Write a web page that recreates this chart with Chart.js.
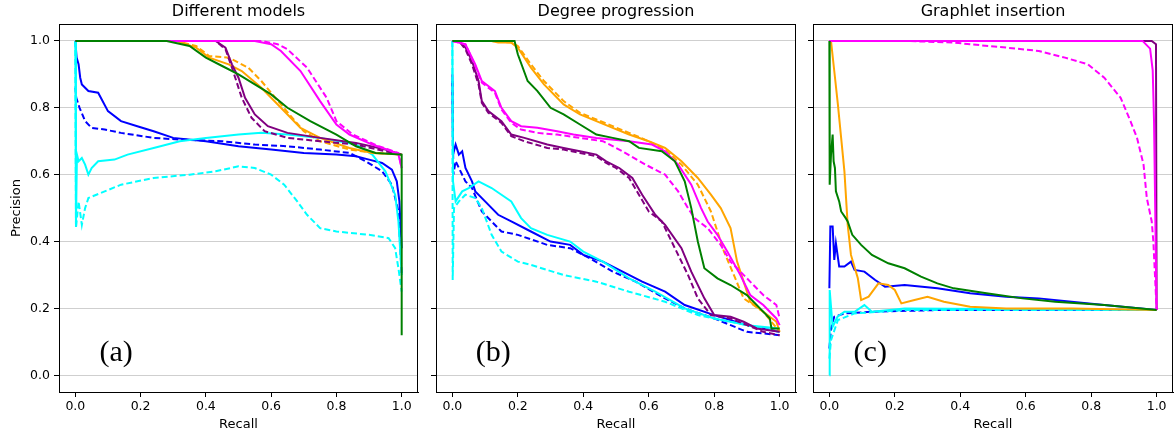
<!DOCTYPE html>
<html>
<head>
<meta charset="utf-8">
<script src="https://cdn.jsdelivr.net/npm/chart.js@4.4.1/dist/chart.umd.min.js"></script>
<style>
  html, body { margin: 0; padding: 0; background: #fff; }
  #wrap { position: relative; width: 1174px; height: 434px; }
  #wrap canvas { position: absolute; left: 0; top: 0; }
</style>
</head>
<body>
<div id="wrap">
  <canvas id="chartA" width="1174" height="434"></canvas>
  <canvas id="chartB" width="1174" height="434"></canvas>
  <canvas id="chartC" width="1174" height="434"></canvas>
</div>
<script>
// ticks
const recallTicks = [0, 0.2, 0.4, 0.6, 0.8, 1.0];
const precisionTicks = [0, 0.2, 0.4, 0.6, 0.8, 1.0];
const panelTitles = ['Different models', 'Degree progression', 'Graphlet insertion'];
const panelTags = ['(a)', '(b)', '(c)'];

// --- (a) Different models : [recall, precision]
const aBlue = [[0,1],[0.004,0.95],[0.01,0.93],[0.015,0.89],[0.02,0.87],[0.04,0.85],[0.07,0.845],[0.1,0.79],[0.14,0.76],[0.19,0.745],[0.24,0.73],[0.3,0.71],[0.4,0.70],[0.5,0.685],[0.6,0.675],[0.7,0.665],[0.8,0.66],[0.86,0.655],[0.9,0.645],[0.94,0.635],[0.97,0.615],[0.985,0.58],[0.993,0.52],[1.0,0.38]];
const aBlueDash = [[0,0.86],[0.003,0.83],[0.013,0.80],[0.03,0.76],[0.05,0.74],[0.09,0.735],[0.14,0.725],[0.24,0.71],[0.32,0.705],[0.45,0.70],[0.55,0.69],[0.65,0.685],[0.75,0.675],[0.84,0.665],[0.89,0.64],[0.94,0.61],[0.97,0.57],[0.99,0.49],[1.0,0.30]];
const aCyan = [[0,1],[0.002,0.45],[0.005,0.66],[0.01,0.64],[0.02,0.65],[0.03,0.63],[0.04,0.60],[0.05,0.62],[0.07,0.64],[0.12,0.645],[0.16,0.66],[0.24,0.68],[0.32,0.70],[0.4,0.71],[0.5,0.72],[0.57,0.725],[0.65,0.72],[0.75,0.71],[0.86,0.69],[0.91,0.66],[0.95,0.61],[0.98,0.54],[0.99,0.46],[1.0,0.30]];
const aCyanDash = [[0,1],[0.002,0.44],[0.01,0.52],[0.02,0.45],[0.03,0.50],[0.04,0.53],[0.09,0.55],[0.14,0.57],[0.24,0.59],[0.35,0.60],[0.43,0.61],[0.5,0.625],[0.55,0.62],[0.6,0.60],[0.64,0.57],[0.68,0.52],[0.71,0.48],[0.75,0.44],[0.8,0.43],[0.9,0.42],[0.96,0.41],[0.98,0.38],[0.99,0.32],[1.0,0.25]];
const aOrange = [[0,1],[0.31,1],[0.37,0.98],[0.41,0.95],[0.47,0.93],[0.51,0.91],[0.57,0.86],[0.63,0.80],[0.69,0.74],[0.75,0.71],[0.84,0.68],[0.91,0.665],[1.0,0.66]];
const aOrangeDash = [[0,1],[0.31,1],[0.37,0.985],[0.41,0.955],[0.47,0.95],[0.53,0.92],[0.57,0.88],[0.63,0.81],[0.70,0.73],[0.75,0.70],[0.84,0.675],[0.92,0.665],[1.0,0.66]];
const aPurple = [[0,1],[0.43,1],[0.46,0.98],[0.48,0.93],[0.50,0.89],[0.52,0.83],[0.55,0.78],[0.59,0.745],[0.65,0.725],[0.75,0.71],[0.86,0.695],[0.95,0.675],[1.0,0.66]];
const aPurpleDash = [[0,1],[0.43,1],[0.46,0.975],[0.48,0.92],[0.49,0.89],[0.51,0.83],[0.54,0.77],[0.58,0.73],[0.65,0.71],[0.75,0.70],[0.86,0.69],[0.95,0.67],[1.0,0.66]];
const aMagenta = [[0,1],[0.55,1],[0.6,0.99],[0.63,0.97],[0.69,0.91],[0.75,0.82],[0.8,0.75],[0.84,0.72],[0.91,0.69],[0.97,0.67],[0.99,0.66],[1.0,0.62]];
const aMagentaDash = [[0,1],[0.57,1],[0.62,0.99],[0.65,0.975],[0.71,0.92],[0.77,0.83],[0.80,0.76],[0.85,0.72],[0.93,0.685],[0.99,0.665],[1.0,0.62]];
const aGreen = [[0,1],[0.28,1],[0.35,0.985],[0.40,0.95],[0.45,0.925],[0.50,0.90],[0.55,0.87],[0.60,0.84],[0.65,0.80],[0.72,0.76],[0.80,0.72],[0.86,0.685],[0.92,0.665],[1.0,0.66],[1.0,0.12]];

// --- (b) Degree progression
const bBlue = [[0,0.9],[0.002,0.66],[0.01,0.69],[0.02,0.66],[0.03,0.67],[0.04,0.62],[0.06,0.58],[0.07,0.55],[0.10,0.52],[0.14,0.48],[0.18,0.46],[0.24,0.43],[0.30,0.40],[0.36,0.39],[0.40,0.36],[0.46,0.34],[0.52,0.31],[0.58,0.28],[0.65,0.25],[0.71,0.21],[0.80,0.18],[0.90,0.15],[1.0,0.13]];
const bBlueDash = [[0,0.88],[0.003,0.60],[0.01,0.64],[0.02,0.62],[0.04,0.58],[0.06,0.56],[0.09,0.49],[0.12,0.46],[0.15,0.43],[0.20,0.42],[0.29,0.39],[0.36,0.38],[0.42,0.35],[0.49,0.31],[0.56,0.28],[0.65,0.23],[0.71,0.20],[0.80,0.17],[0.90,0.13],[0.95,0.125],[1.0,0.12]];
const bCyan = [[0,1],[0.002,0.58],[0.01,0.52],[0.03,0.55],[0.05,0.56],[0.08,0.58],[0.12,0.56],[0.15,0.54],[0.18,0.52],[0.21,0.47],[0.24,0.44],[0.29,0.42],[0.36,0.40],[0.40,0.37],[0.46,0.34],[0.54,0.29],[0.62,0.25],[0.71,0.20],[0.80,0.17],[0.90,0.15],[1.0,0.14]];
const bCyanDash = [[0,1],[0.001,0.285],[0.005,0.50],[0.02,0.52],[0.04,0.54],[0.07,0.53],[0.09,0.50],[0.12,0.42],[0.15,0.37],[0.20,0.34],[0.24,0.33],[0.34,0.30],[0.44,0.28],[0.54,0.25],[0.65,0.22],[0.75,0.18],[0.85,0.16],[1.0,0.13]];
const bOrange = [[0,1],[0.12,1],[0.14,0.995],[0.18,0.995],[0.20,0.98],[0.24,0.92],[0.28,0.87],[0.34,0.81],[0.39,0.78],[0.44,0.76],[0.49,0.74],[0.54,0.72],[0.60,0.70],[0.65,0.68],[0.70,0.64],[0.75,0.59],[0.79,0.54],[0.82,0.50],[0.85,0.44],[0.87,0.34],[0.89,0.28],[0.91,0.22],[0.95,0.19],[0.99,0.16],[1.0,0.13]];
const bOrangeDash = [[0,1],[0.12,1],[0.18,0.995],[0.20,0.985],[0.24,0.93],[0.28,0.88],[0.34,0.82],[0.39,0.785],[0.44,0.765],[0.49,0.745],[0.54,0.725],[0.60,0.70],[0.65,0.675],[0.70,0.63],[0.75,0.57],[0.79,0.49],[0.83,0.37],[0.86,0.30],[0.89,0.23],[0.95,0.19],[1.0,0.13]];
const bPurple = [[0,1],[0.02,1],[0.04,0.98],[0.06,0.94],[0.08,0.88],[0.09,0.82],[0.11,0.79],[0.15,0.76],[0.18,0.72],[0.22,0.71],[0.29,0.69],[0.34,0.68],[0.39,0.67],[0.44,0.66],[0.47,0.64],[0.51,0.62],[0.55,0.59],[0.58,0.54],[0.62,0.48],[0.65,0.45],[0.70,0.38],[0.73,0.31],[0.77,0.23],[0.80,0.18],[0.85,0.175],[0.89,0.16],[0.93,0.14],[1.0,0.13]];
const bPurpleDash = [[0,1],[0.02,1],[0.04,0.975],[0.06,0.93],[0.08,0.87],[0.09,0.815],[0.11,0.785],[0.15,0.755],[0.18,0.715],[0.22,0.70],[0.29,0.68],[0.34,0.675],[0.39,0.665],[0.44,0.655],[0.47,0.635],[0.50,0.62],[0.54,0.59],[0.57,0.54],[0.60,0.49],[0.64,0.46],[0.68,0.38],[0.72,0.30],[0.75,0.23],[0.79,0.18],[0.85,0.17],[0.90,0.15],[0.95,0.13],[1.0,0.12]];
const bMagenta = [[0,1],[0.04,0.99],[0.07,0.93],[0.09,0.88],[0.13,0.85],[0.15,0.80],[0.18,0.76],[0.21,0.745],[0.26,0.74],[0.32,0.73],[0.37,0.72],[0.44,0.71],[0.54,0.70],[0.61,0.69],[0.65,0.67],[0.69,0.63],[0.73,0.57],[0.76,0.50],[0.78,0.46],[0.81,0.42],[0.84,0.37],[0.88,0.30],[0.91,0.24],[0.95,0.21],[0.99,0.17],[1.0,0.15]];
const bMagentaDash = [[0,1],[0.04,0.99],[0.07,0.925],[0.09,0.875],[0.13,0.845],[0.15,0.795],[0.18,0.755],[0.21,0.735],[0.26,0.725],[0.32,0.72],[0.39,0.71],[0.46,0.70],[0.52,0.67],[0.59,0.63],[0.65,0.60],[0.69,0.55],[0.72,0.50],[0.74,0.47],[0.78,0.44],[0.82,0.39],[0.85,0.34],[0.90,0.29],[0.95,0.24],[0.99,0.21],[1.0,0.17]];
const bGreen = [[0,1],[0.19,1],[0.20,0.96],[0.23,0.88],[0.26,0.85],[0.30,0.80],[0.34,0.78],[0.39,0.75],[0.44,0.72],[0.49,0.71],[0.54,0.70],[0.57,0.68],[0.64,0.67],[0.68,0.64],[0.71,0.58],[0.73,0.50],[0.75,0.40],[0.77,0.32],[0.81,0.29],[0.85,0.27],[0.90,0.24],[0.94,0.20],[0.97,0.17],[0.975,0.14],[1.0,0.14]];

// --- (c) Graphlet insertion
const cBlue = [[0,0.26],[0.003,0.445],[0.01,0.445],[0.015,0.345],[0.02,0.395],[0.03,0.325],[0.046,0.325],[0.066,0.34],[0.077,0.315],[0.107,0.31],[0.14,0.285],[0.17,0.265],[0.23,0.27],[0.33,0.26],[0.43,0.245],[0.54,0.235],[0.64,0.23],[0.74,0.22],[0.84,0.21],[1.0,0.195]];
const cBlueDash = [[0,0.08],[0.005,0.14],[0.015,0.175],[0.046,0.185],[0.13,0.19],[0.33,0.195],[1.0,0.195]];
const cCyan = [[0,0],[0.001,0.255],[0.01,0.145],[0.025,0.175],[0.046,0.19],[0.077,0.19],[0.107,0.21],[0.13,0.19],[0.23,0.20],[0.5,0.198],[1.0,0.195]];
const cCyanDash = [[0,0.05],[0.005,0.105],[0.026,0.165],[0.077,0.185],[0.23,0.195],[1.0,0.195]];
const cOrange = [[0,1],[0.005,1],[0.015,0.91],[0.026,0.81],[0.036,0.71],[0.046,0.61],[0.056,0.45],[0.066,0.36],[0.087,0.29],[0.097,0.225],[0.12,0.235],[0.15,0.275],[0.18,0.27],[0.20,0.255],[0.22,0.215],[0.26,0.225],[0.30,0.235],[0.35,0.22],[0.43,0.205],[0.54,0.20],[0.74,0.20],[1.0,0.195]];
const cPurple = [[0,1],[0.985,1],[0.998,0.99],[1.0,0.195]];
const cMagenta = [[0,1],[0.957,1],[0.98,0.977],[0.988,0.912],[0.992,0.763],[0.997,0.4],[1.0,0.195]];
const cMagentaDash = [[0,1],[0.23,1],[0.38,0.995],[0.43,0.99],[0.54,0.98],[0.64,0.97],[0.72,0.95],[0.79,0.93],[0.84,0.89],[0.89,0.83],[0.92,0.76],[0.94,0.71],[0.96,0.63],[0.97,0.53],[0.985,0.46],[0.99,0.40],[1.0,0.195]];
const cGreen = [[0,1],[0.001,0.57],[0.005,0.66],[0.01,0.72],[0.013,0.64],[0.017,0.62],[0.02,0.55],[0.03,0.52],[0.036,0.49],[0.05,0.47],[0.056,0.46],[0.07,0.42],[0.097,0.39],[0.13,0.36],[0.18,0.335],[0.23,0.32],[0.28,0.295],[0.33,0.275],[0.38,0.26],[0.48,0.245],[0.59,0.23],[0.69,0.22],[0.84,0.21],[1.0,0.195]];

const COLORS = {
  blue: '#0000ff', cyan: '#00ffff', orange: '#ffa500',
  purple: '#800080', magenta: '#ff00ff', green: '#008000'
};

// dataset 0 is painted last (on top)
function series(pts, color, dashed) {
  return {
    data: pts.map(p => ({ x: p[0], y: p[1] })),
    borderColor: COLORS[color],
    backgroundColor: COLORS[color],
    borderWidth: 2,
    borderDash: dashed ? [6, 3] : [],
    pointRadius: 0,
    tension: 0,
    fill: false
  };
}

// frame around the plot + (a)/(b)/(c) tag
const framePlugin = {
  id: 'frame',
  afterDatasetsDraw(chart, args, opts) {
    const { ctx, chartArea: a, scales } = chart;
    ctx.save();
    ctx.fillStyle = '#000';
    ctx.font = '30px "Liberation Serif", "DejaVu Serif", serif';
    ctx.textAlign = 'center';
    ctx.textBaseline = 'middle';
    ctx.fillText(opts.tag, scales.x.getPixelForValue(0.125), scales.y.getPixelForValue(0.066));
    ctx.strokeStyle = '#000';
    ctx.lineWidth = 1;
    ctx.strokeRect(Math.round(a.left) + 0.5, Math.round(a.top) + 0.5,
      Math.round(a.right - a.left) - 1, Math.round(a.bottom - a.top));
    ctx.restore();
  }
};

function makePanel(id, idx, datasets, padLeft, padRight, yWidth) {
  const first = idx === 0;
  return new Chart(document.getElementById(id), {
    type: 'line',
    data: { datasets },
    options: {
      responsive: false,
      animation: false,
      devicePixelRatio: 1,
      events: [],
      layout: { padding: { left: padLeft, right: padRight, top: 0, bottom: 0 } },
      plugins: {
        legend: { display: false },
        tooltip: { enabled: false },
        title: {
          display: true,
          fullSize: false,
          text: panelTitles[idx],
          color: '#000',
          font: { family: 'DejaVu Sans', size: 16, weight: 'normal' },
          padding: { top: 2, bottom: 3 }
        },
        frame: { tag: panelTags[idx] }
      },
      scales: {
        x: {
          type: 'linear',
          min: -0.05, max: 1.05,
          afterBuildTicks: s => { s.ticks = recallTicks.map(v => ({ value: v })); },
          afterFit: s => { s.height = 42; },
          grid: { drawOnChartArea: false, tickColor: '#000', tickLength: 5 },
          border: { color: '#000' },
          ticks: {
            color: '#000', padding: 2,
            font: { family: 'DejaVu Sans', size: 12.5 },
            maxRotation: 0,
            callback: v => v.toFixed(1)
          },
          title: {
            display: true, text: 'Recall', color: '#000',
            font: { family: 'DejaVu Sans', size: 13 },
            padding: { top: 0, bottom: 2 }
          }
        },
        y: {
          type: 'linear',
          min: -0.05, max: 1.05,
          afterBuildTicks: s => { s.ticks = precisionTicks.map(v => ({ value: v })); },
          afterFit: s => { s.width = yWidth; },
          grid: { color: '#cfcfcf', lineWidth: 1, tickColor: '#000', tickLength: 5 },
          border: { color: '#000' },
          ticks: {
            display: first,
            color: '#000', padding: 4,
            font: { family: 'DejaVu Sans', size: 12.5 },
            callback: v => v.toFixed(1)
          },
          title: {
            display: first, text: 'Precision', color: '#000',
            font: { family: 'DejaVu Sans', size: 13 },
            padding: { top: 9, bottom: 0 }
          }
        }
      }
    },
    plugins: [framePlugin]
  });
}

makePanel('chartA', 0, [
  series(aGreen, 'green', false),
  series(aMagentaDash, 'magenta', true),
  series(aMagenta, 'magenta', false),
  series(aPurpleDash, 'purple', true),
  series(aPurple, 'purple', false),
  series(aOrangeDash, 'orange', true),
  series(aOrange, 'orange', false),
  series(aCyanDash, 'cyan', true),
  series(aCyan, 'cyan', false),
  series(aBlueDash, 'blue', true),
  series(aBlue, 'blue', false)
], 0, 756, 59);

makePanel('chartB', 1, [
  series(bGreen, 'green', false),
  series(bMagentaDash, 'magenta', true),
  series(bMagenta, 'magenta', false),
  series(bPurpleDash, 'purple', true),
  series(bPurple, 'purple', false),
  series(bOrangeDash, 'orange', true),
  series(bOrange, 'orange', false),
  series(bCyanDash, 'cyan', true),
  series(bCyan, 'cyan', false),
  series(bBlueDash, 'blue', true),
  series(bBlue, 'blue', false)
], 424, 378, 12);

makePanel('chartC', 2, [
  series(cGreen, 'green', false),
  series(cMagentaDash, 'magenta', true),
  series(cMagenta, 'magenta', false),
  series(cPurple, 'purple', false),
  series(cOrange, 'orange', false),
  series(cCyanDash, 'cyan', true),
  series(cCyan, 'cyan', false),
  series(cBlueDash, 'blue', true),
  series(cBlue, 'blue', false)
], 801, 1, 12);
</script>
</body>
</html>
